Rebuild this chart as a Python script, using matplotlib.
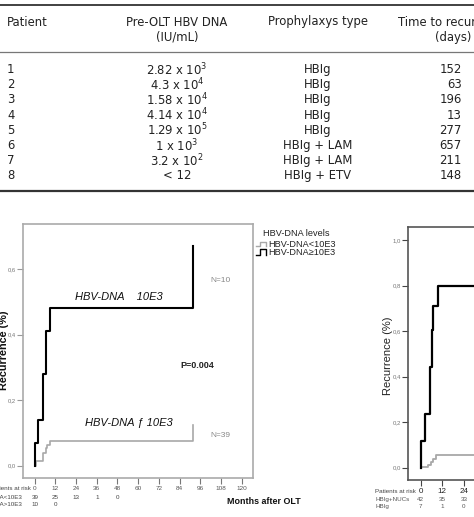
import matplotlib
matplotlib.use("Agg")
import matplotlib.pyplot as plt
import matplotlib.transforms as mtransforms
from matplotlib.lines import Line2D

W, H = 474, 517

# ---------------- data ----------------
patients = ['1', '2', '3', '4', '5', '6', '7', '8']
pre_olt_dna = [r'2.82 x 10$^{3}$', r'4.3 x 10$^{4}$', r'1.58 x 10$^{4}$', r'4.14 x 10$^{4}$',
               r'1.29 x 10$^{5}$', r'1 x 10$^{3}$', r'3.2 x 10$^{2}$', '< 12']
prophylaxis = ['HBIg', 'HBIg', 'HBIg', 'HBIg', 'HBIg', 'HBIg + LAM', 'HBIg + LAM', 'HBIg + ETV']
days_to_recurrence = [152, 63, 196, 13, 277, 657, 211, 148]

# left panel: recurrence by HBV-DNA level
high_t = [0, 0, 2, 5, 6.4, 6.6, 9, 91.6]
high_y = [0, 0.07, 0.14, 0.28, 0.345, 0.41, 0.48, 0.67]
low_t = [0, 0.75, 4.6, 6.4, 7, 8.9, 91.6]
low_y = [0, 0.015, 0.038, 0.053, 0.063, 0.076, 0.124]
left_xticks = [0, 12, 24, 36, 48, 60, 72, 84, 96, 108, 120]
left_yticks = [0.0, 0.2, 0.4, 0.6]
left_ytick_labels = ['0,0', '0,2', '0,4', '0,6']
left_risk_months = [0, 12, 24, 36, 48]
left_risk_low = ['39', '25', '13', '1', '0']
left_risk_high = ['10', '0']

# right panel: recurrence by prophylaxis
nucs_t = [0, 0, 4.2, 5.7, 6.8, 8.5, 60]
nucs_y = [0, 0.005, 0.012, 0.026, 0.037, 0.056, 0.056]
hbig_t = [0, 0, 2.4, 5.2, 6.1, 7.0, 9.8, 60]
hbig_y = [0, 0.117, 0.235, 0.444, 0.605, 0.71, 0.8, 0.8]
right_xticks = [0, 12, 24]
right_yticks = [0.0, 0.2, 0.4, 0.6, 0.8, 1.0]
right_ytick_labels = ['0,0', '0,2', '0,4', '0,6', '0,8', '1,0']
right_risk_months = [0, 12, 24]
right_risk_nucs = ['42', '35', '33']
right_risk_hbig = ['7', '1', '0']


def fx(px):
    return px / W


def fy(py):
    return 1 - py / H


fig = plt.figure(figsize=(W / 100, H / 100), dpi=100)
fig.patch.set_facecolor('white')

# ---------------- table ----------------
tcol = '#222222'
tfs = 8.4
tkw = dict(fontsize=tfs, color=tcol, family='DejaVu Sans')
fig.add_artist(Line2D([0, 1], [fy(5), fy(5)], color='#333333', lw=1.3))
fig.add_artist(Line2D([0, 1], [fy(51.7), fy(51.7)], color='#777777', lw=0.9))
fig.add_artist(Line2D([0, 1], [fy(190.5), fy(190.5)], color='#333333', lw=1.6))

fig.text(fx(7), fy(22), 'Patient', ha='left', va='center', **tkw)
fig.text(fx(177), fy(22), 'Pre-OLT HBV DNA', ha='center', va='center', **tkw)
fig.text(fx(177), fy(37.5), '(IU/mL)', ha='center', va='center', **tkw)
fig.text(fx(317.5), fy(22), 'Prophylaxys type', ha='center', va='center', **tkw)
fig.text(fx(397.5), fy(22), 'Time to recurrence', ha='left', va='center', **tkw)
fig.text(fx(453.5), fy(37.5), '(days)', ha='center', va='center', **tkw)

for i in range(len(patients)):
    yy = fy(69.5 + i * 15.2)
    fig.text(fx(7), yy, patients[i], ha='left', va='center', **tkw)
    fig.text(fx(177), yy, pre_olt_dna[i], ha='center', va='center', **tkw)
    fig.text(fx(317.5), yy, prophylaxis[i], ha='center', va='center', **tkw)
    fig.text(fx(462), yy, str(days_to_recurrence[i]), ha='right', va='center', **tkw)

# ---------------- left panel ----------------
pf = 'Liberation Sans'
gray_line = '#a8a8a8'
axL = fig.add_axes([fx(23), fy(478), fx(253) - fx(23), fy(224) - fy(478)])
axL.set_xlim(-6.8, 126.6)
axL.set_ylim(-0.038, 0.738)
axL.step(low_t, low_y, where='post', color=gray_line, lw=1.2)
axL.step(high_t, high_y, where='post', color='black', lw=1.5)
for s in axL.spines.values():
    s.set_color('#aaaaaa')
    s.set_linewidth(1.2)
axL.set_xticks(left_xticks)
axL.set_xticklabels([str(v) for v in left_xticks], fontsize=4.6, color='#555555', family=pf)
axL.set_yticks(left_yticks)
axL.set_yticklabels(left_ytick_labels, fontsize=4.2, color='#777777', family=pf)
axL.tick_params(axis='x', direction='out', length=4, width=0.8, color='#777777', pad=2)
axL.tick_params(axis='y', direction='out', length=4, width=0.8, color='#999999', pad=1)

fig.text(fx(75), fy(297), 'HBV-DNA    10E3', ha='left', va='center', fontsize=8,
         style='italic', family=pf, color='#111111')
fig.text(fx(85), fy(423.3), 'HBV-DNA \u0192 10E3', ha='left', va='center', fontsize=8,
         style='italic', family=pf, color='#111111')
fig.text(fx(210), fy(280), 'N=10', ha='left', va='center', fontsize=6, family=pf, color='#888888')
fig.text(fx(210), fy(435.7), 'N=39', ha='left', va='center', fontsize=6, family=pf, color='#888888')
fig.text(fx(180), fy(365), 'P=0.004', ha='left', va='center', fontsize=6.5, family=pf,
         weight='bold', color='#222222')
fig.text(fx(4.0), fy(350), 'Recurrence (%)', ha='center', va='center', rotation=90,
         fontsize=7.8, family=pf, weight='bold', color='#111111')
fig.text(fx(226.7), fy(501), 'Months after OLT', ha='left', va='center', fontsize=6.4,
         family=pf, weight='bold', color='#111111')

# legend
fig.text(fx(262.7), fy(233.3), 'HBV-DNA levels', ha='left', va='center', fontsize=6.6,
         family=pf, color='#222222')
fig.text(fx(268.3), fy(244.3), 'HBV-DNA<10E3', ha='left', va='center', fontsize=6.6,
         family=pf, color='#222222')
fig.text(fx(268.3), fy(252.5), 'HBV-DNA\u226510E3', ha='left', va='center', fontsize=6.6,
         family=pf, color='#222222')
for yl, yh, c in [(246.5, 241.5, gray_line), (254.5, 249.5, 'black')]:
    fig.add_artist(Line2D([fx(256), fx(259.5), fx(259.5), fx(265.5), fx(265.5)],
                          [fy(yl), fy(yl), fy(yh), fy(yh), fy(yl)], color=c, lw=1.0))

# numbers at risk (left)
trL = mtransforms.blended_transform_factory(axL.transData, fig.transFigure)
rfs = 4.5
fig.text(fx(31), fy(488.3), 'Patients at risk', ha='right', va='center', fontsize=rfs,
         family=pf, color='#444444')
fig.text(fx(22.7), fy(497.3), 'HBV-DNA<10E3', ha='right', va='center', fontsize=rfs,
         family=pf, color='#444444')
fig.text(fx(22.7), fy(505), 'HBV-DNA>10E3', ha='right', va='center', fontsize=rfs,
         family=pf, color='#444444')
for m, v in zip(left_risk_months, left_risk_low):
    axL.text(m, fy(497.3), v, transform=trL, ha='center', va='center', fontsize=rfs,
             family=pf, color='#444444')
for m, v in zip(left_risk_months, left_risk_high):
    axL.text(m, fy(505), v, transform=trL, ha='center', va='center', fontsize=rfs,
             family=pf, color='#444444')

# ---------------- right panel ----------------
axR = fig.add_axes([fx(408.3), fy(480), 230 / W, fy(227.3) - fy(480)])
axR.set_xlim(-6.9, 120.9)
axR.set_ylim(-0.054, 1.057)
axR.step(nucs_t, nucs_y, where='post', color=gray_line, lw=1.3)
axR.step(hbig_t, hbig_y, where='post', color='black', lw=1.6)
for s in axR.spines.values():
    s.set_color('#555555')
    s.set_linewidth(1.2)
axR.set_xticks(right_xticks)
axR.set_xticklabels([str(v) for v in right_xticks], fontsize=5.8, color='#222222', family=pf)
axR.set_yticks(right_yticks)
axR.set_yticklabels(right_ytick_labels, fontsize=4.3, color='#777777', family=pf)
axR.tick_params(axis='x', direction='out', length=4, width=0.8, color='#444444', pad=2)
axR.tick_params(axis='y', direction='out', length=4, width=0.8, color='#444444', pad=1)
fig.text(fx(388.3), fy(356), 'Recurrence (%)', ha='center', va='center', rotation=90,
         fontsize=8, family=pf, color='#222222')

trR = mtransforms.blended_transform_factory(axR.transData, fig.transFigure)
fig.text(fx(375), fy(491.7), 'Patients at risk', ha='left', va='center', fontsize=rfs,
         family=pf, color='#444444')
fig.text(fx(375), fy(499.3), 'HBIg+NUCs', ha='left', va='center', fontsize=rfs,
         family=pf, color='#555555')
fig.text(fx(375), fy(506.7), 'HBIg', ha='left', va='center', fontsize=rfs,
         family=pf, color='#555555')
for m, v in zip(right_risk_months, right_risk_nucs):
    axR.text(m, fy(499.3), v, transform=trR, ha='center', va='center', fontsize=rfs,
             family=pf, color='#555555')
for m, v in zip(right_risk_months, right_risk_hbig):
    axR.text(m, fy(506.7), v, transform=trR, ha='center', va='center', fontsize=rfs,
             family=pf, color='#555555')

fig.savefig('out.png', dpi=100)
